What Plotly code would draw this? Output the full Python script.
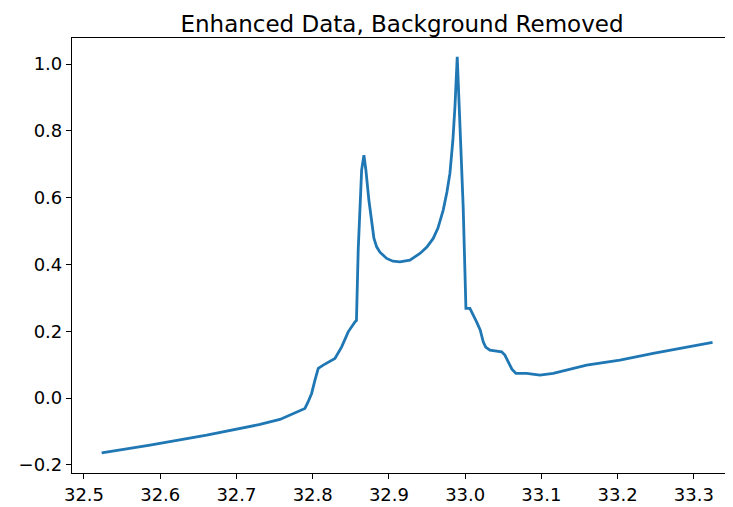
import plotly.graph_objects as go

x_vals = [32.5232, 32.5866, 32.6609, 32.7308, 32.7570, 32.7833, 32.7898, 32.7938,
          32.7986, 32.8030, 32.8073, 32.8138, 32.8292, 32.8380, 32.8466, 32.8554,
          32.8574, 32.8597, 32.8642, 32.8672, 32.8698, 32.8737, 32.8773, 32.8803,
          32.8839, 32.8882, 32.8970, 32.9052, 32.9144, 32.9275, 32.9407, 32.9498,
          32.9581, 32.9643, 32.9712, 32.9761, 32.9800, 32.9839, 32.9866, 32.9896,
          32.9922, 32.9974, 33.0010, 33.0062, 33.0150, 33.0197, 33.0237, 33.0269,
          33.0325, 33.0426, 33.0478, 33.0521, 33.0565, 33.0613, 33.0666, 33.0806,
          33.0980, 33.1155, 33.1593, 33.2030, 33.2466, 33.2904, 33.3245]
y_vals = [-0.1638, -0.1407, -0.1108, -0.0787, -0.0638, -0.0359, -0.0308, -0.0120,
          0.0141, 0.0540, 0.0889, 0.0988, 0.1189, 0.1536, 0.1985, 0.2284,
          0.2320, 0.4431, 0.6826, 0.7275, 0.6826, 0.5930, 0.5231, 0.4790,
          0.4530, 0.4370, 0.4183, 0.4100, 0.4081, 0.4130, 0.4332, 0.4520,
          0.4781, 0.5090, 0.5629, 0.6170, 0.6728, 0.7720, 0.8722, 1.0219,
          0.8722, 0.5728, 0.2686, 0.2686, 0.2284, 0.2040, 0.1686, 0.1530,
          0.1437, 0.1410, 0.1386, 0.1290, 0.1087, 0.0870, 0.0740, 0.0740,
          0.0689, 0.0740, 0.0988, 0.1138, 0.1338, 0.1536, 0.1668]

x_ticks = [32.5, 32.6, 32.7, 32.8, 32.9, 33.0, 33.1, 33.2, 33.3]
x_tick_text = ["32.5", "32.6", "32.7", "32.8", "32.9", "33.0", "33.1", "33.2", "33.3"]
y_ticks = [-0.2, 0.0, 0.2, 0.4, 0.6, 0.8, 1.0]
y_tick_text = ["\u22120.2", "0.0", "0.2", "0.4", "0.6", "0.8", "1.0"]

fig = go.Figure()
fig.add_trace(go.Scatter(x=x_vals, y=y_vals, mode="lines",
                         line=dict(color="#1f77b4", width=2.8)))

axis_common = dict(showline=True, linecolor="black", linewidth=1.2, mirror=True,
                   ticks="outside", ticklen=5, tickwidth=1.2, tickcolor="black",
                   showgrid=False, zeroline=False,
                   tickfont=dict(family="DejaVu Sans", size=18, color="black"))

# page body has an 8px margin, so the figure is sized/offset to fit the window
fig.update_layout(
    width=725, height=499,
    margin=dict(l=64, r=1, t=30, b=34, autoexpand=False),
    plot_bgcolor="white", paper_bgcolor="white",
    showlegend=False,
    title=dict(text="Enhanced Data, Background Removed", x=0.5, xanchor="center",
               xref="paper", y=1, yref="paper", yanchor="bottom", pad=dict(b=6),
               font=dict(family="DejaVu Sans", size=23, color="black")),
    xaxis=dict(range=[32.4843, 33.35], tickvals=x_ticks, ticktext=x_tick_text, **axis_common),
    yaxis=dict(range=[-0.224, 1.078], tickvals=y_ticks, ticktext=y_tick_text, **axis_common),
)

fig.write_html("out.html")
